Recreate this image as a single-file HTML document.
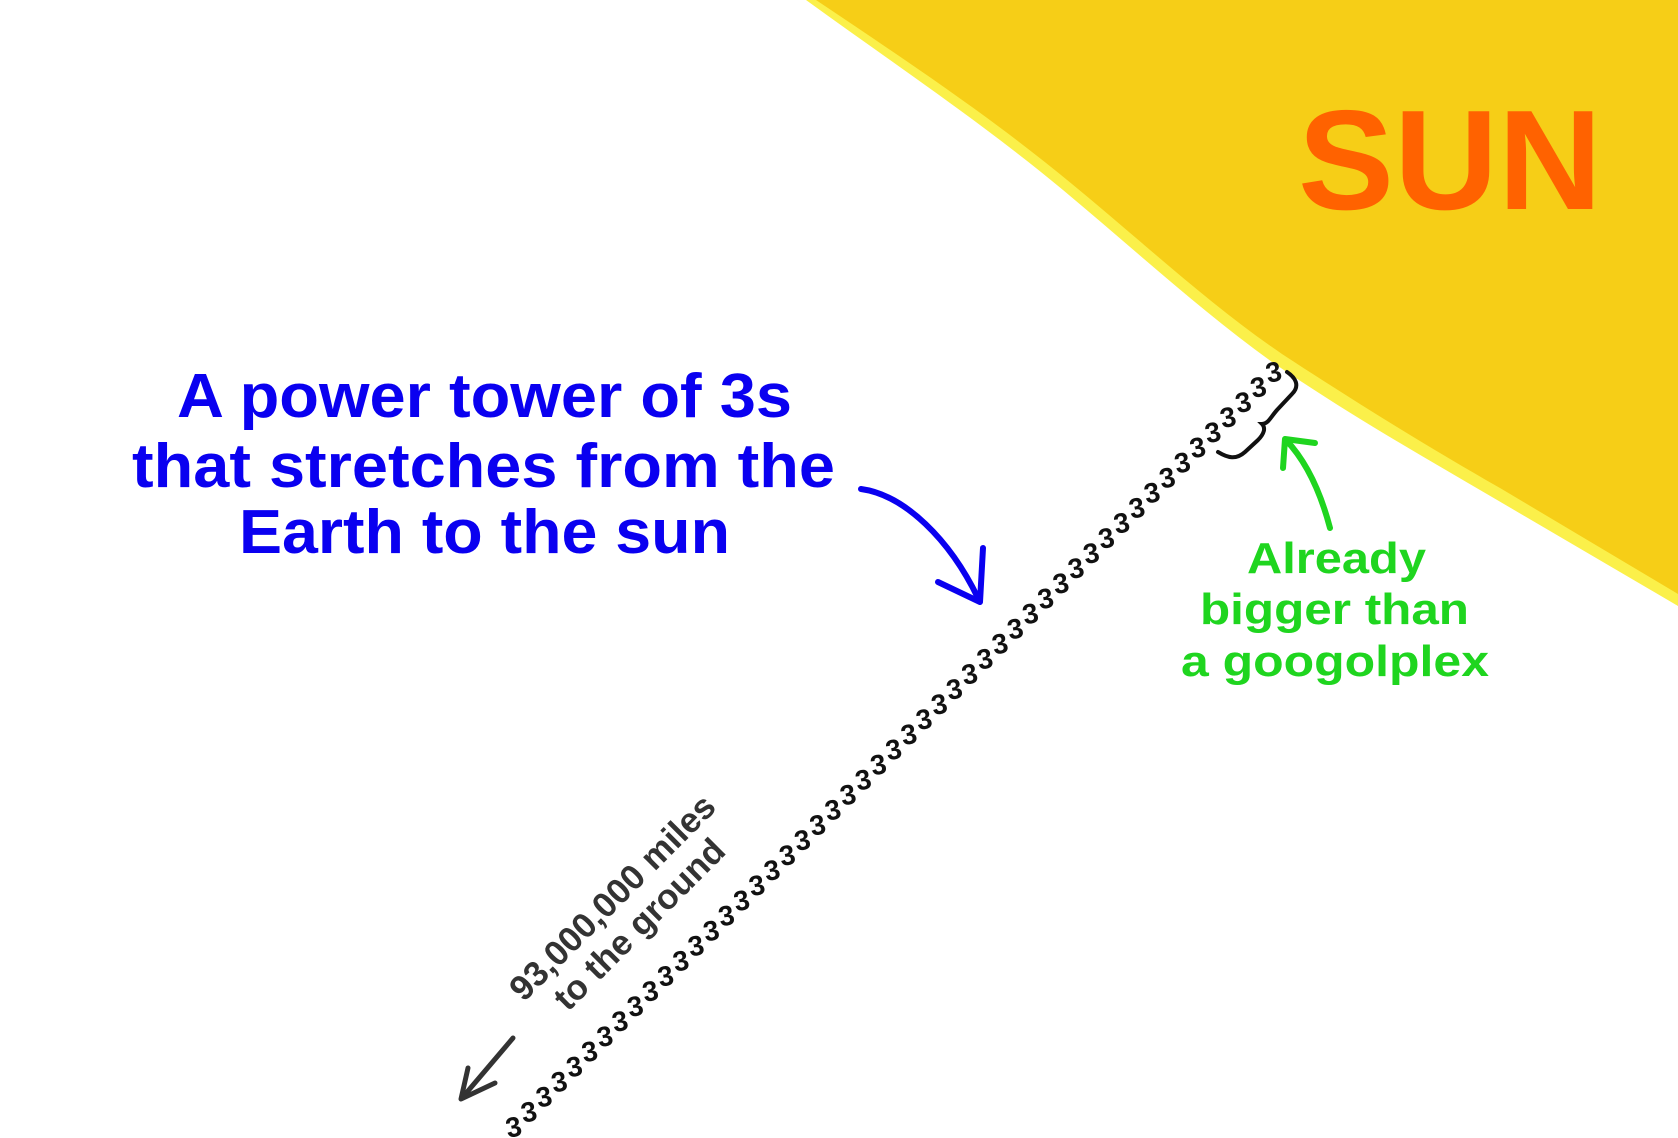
<!DOCTYPE html>
<html><head><meta charset="utf-8"><style>
html,body{margin:0;padding:0;background:#fff;}
svg{display:block;}
text{font-family:"Liberation Sans",Arial,sans-serif;font-weight:bold;}
</style></head><body>
<svg id="s" width="1678" height="1138" viewBox="0 0 1678 1138">
<path d="M806,0 C900,68 985,125 1063,190 C1135,250 1200,310 1272,362 C1350,415 1420,455 1492,497 L1678,606 L1678,0 Z" fill="#FBF04A"/>
<path d="M816,0 C910,63 995,120 1072,184 C1145,244 1210,305 1282,354 C1360,405 1430,448 1500,488 L1678,594 L1678,0 Z" fill="#F6CE17"/>
<text x="1298" y="209" font-size="142" fill="#FF6200" textLength="304" lengthAdjust="spacingAndGlyphs">SUN</text>

<g fill="#0A00F0" font-size="62">
<text x="177" y="417" textLength="615" lengthAdjust="spacingAndGlyphs">A power tower of 3s</text>
<text x="132" y="487" textLength="703" lengthAdjust="spacingAndGlyphs">that stretches from the</text>
<text x="239" y="553" textLength="491" lengthAdjust="spacingAndGlyphs">Earth to the sun</text>
</g>
<g fill="none" stroke="#0A00F0" stroke-width="6" stroke-linecap="round" stroke-linejoin="round">
<path d="M861,489 C905,495 950,540 978,598"/>
<path d="M938,582 L980,602 L983,548"/>
</g>

<g fill="#1FD51F" font-size="44">
<text x="1247" y="573" textLength="179" lengthAdjust="spacingAndGlyphs">Already</text>
<text x="1200" y="624" textLength="269" lengthAdjust="spacingAndGlyphs">bigger than</text>
<text x="1181" y="676" textLength="308" lengthAdjust="spacingAndGlyphs">a googolplex</text>
</g>
<g fill="none" stroke="#1FD51F" stroke-width="6" stroke-linecap="round" stroke-linejoin="round">
<path d="M1330,528 C1320,490 1305,460 1286,440"/>
<path d="M1283,468 L1285,439 L1315,443"/>
</g>

<g id="tower" fill="#111" font-size="28"></g>
<path d="M1287,372 C1296,378 1300,386 1292,394 L1277,410 C1270,418 1268,424 1262,424 C1266,428 1264,434 1258,440 L1245,452 C1236,460 1228,458 1218,452" fill="none" stroke="#111" stroke-width="4" stroke-linecap="round"/>

<g fill="#333" font-size="35" transform="translate(625,910) rotate(-45)">
<text x="0" y="-6" text-anchor="middle">93,000,000 miles</text>
<text x="0" y="32" text-anchor="middle">to the ground</text>
</g>
<g fill="none" stroke="#333" stroke-width="5" stroke-linecap="round" stroke-linejoin="round">
<path d="M513,1038 L462,1098"/>
<path d="M468,1068 L461,1099 L495,1083"/>
</g>
</svg>
<script>
var g=document.getElementById('tower');
var n=51,x0=508,y0=1138,x1=1268,y1=383;
for(var i=0;i<n;i++){
  var t=document.createElementNS('http://www.w3.org/2000/svg','text');
  
  
  var x=x0+(x1-x0)*i/(n-1), y=y0+(y1-y0)*i/(n-1);
  t.setAttribute('transform','translate('+x.toFixed(1)+','+y.toFixed(1)+') rotate(-12)');
  t.textContent='3';
  g.appendChild(t);
}
</script>
</body></html>
